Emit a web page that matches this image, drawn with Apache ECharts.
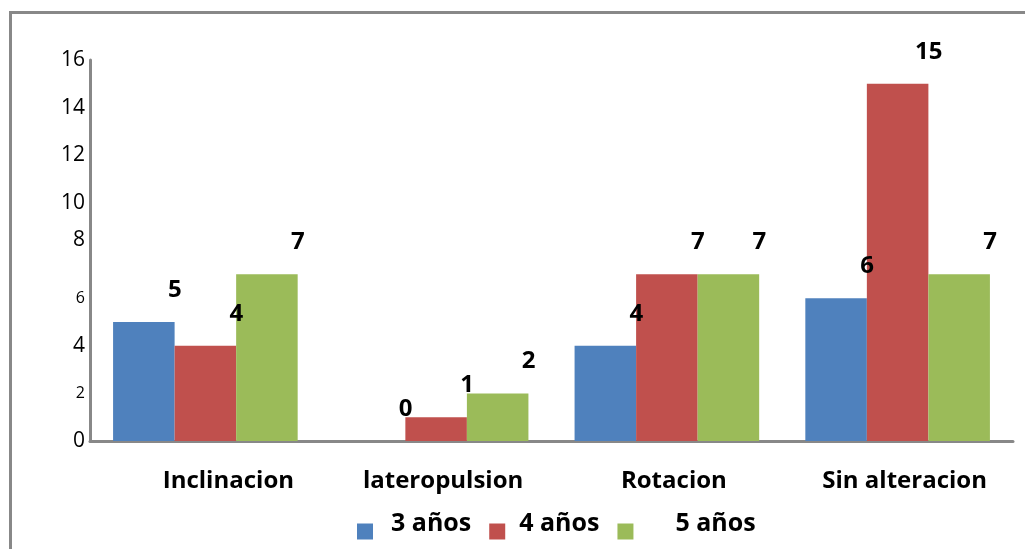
<!DOCTYPE html>
<html>
<head>
<meta charset="utf-8">
<script src="https://cdn.jsdelivr.net/npm/echarts@6/dist/echarts.min.js"></script>
<style>
  html, body { margin: 0; padding: 0; background: #ffffff; }
  #chart { width: 1025px; height: 549px; }
</style>
</head>
<body>
<div id="chart"></div>
<script>
// Categories and series values
const categories = ['Inclinacion', 'lateropulsion', 'Rotacion', 'Sin alteracion'];
const seriesNames = ['3 años', '4 años', '5 años'];
const anos3 = [5, 0, 4, 6];
const anos4 = [4, 1, 7, 15];
const anos5 = [7, 2, 7, 7];
const yTicks = [0, 2, 4, 6, 8, 10, 12, 14, 16];
const smallTicks = [2, 6];

const colors = ['#4F81BD', '#C0504D', '#9BBB59'];
const FONT = '"Open Sans", "DejaVu Sans", sans-serif';

const chart = echarts.init(document.getElementById('chart'), null, { renderer: 'canvas' });

function barSeries(name, values, color) {
  return {
    name: name,
    type: 'bar',
    data: values,
    barGap: '0%',
    barCategoryGap: '20%',
    itemStyle: { color: color },
    label: {
      show: true,
      position: 'top',
      offset: [31, -15],
      fontFamily: FONT,
      fontWeight: 'bold',
      fontSize: 24,
      color: '#000000'
    }
  };
}

chart.setOption({
  animation: false,
  backgroundColor: '#ffffff',
  grid: { left: 90, right: 12, top: 60, bottom: 108, containLabel: false },
  graphic: [
    {
      type: 'polyline',
      shape: { points: [[10.5, 549], [10.5, 12.5], [1025, 12.5]] },
      style: { stroke: '#888888', lineWidth: 3, fill: null }
    }
  ],
  xAxis: {
    type: 'category',
    data: categories,
    axisLine: { show: true, lineStyle: { color: '#888888', width: 3 } },
    axisTick: { show: false },
    axisLabel: {
      interval: 0,
      hideOverlap: false,
      margin: 28,
      fontFamily: FONT,
      fontWeight: 'bold',
      fontSize: 24,
      color: '#000000',
      formatter: function (v) {
        return v === categories[0] ? '{f|' + v + '}' : '{n|' + v + '}';
      },
      rich: {
        f: { fontFamily: FONT, fontWeight: 'bold', fontSize: 24, color: '#000', padding: [0, 0, 0, 46] },
        n: { fontFamily: FONT, fontWeight: 'bold', fontSize: 24, color: '#000', padding: [0, 0, 0, 14] }
      }
    },
    splitLine: { show: false }
  },
  yAxis: {
    type: 'value',
    min: 0,
    max: 16,
    interval: 2,
    axisLine: { show: true, lineStyle: { color: '#888888', width: 3 } },
    axisTick: { show: false },
    splitLine: { show: false },
    axisLabel: {
      margin: 5,
      formatter: function (v) {
        if (smallTicks.indexOf(v) >= 0) return '{s|' + v + '}';
        if (v === 8) return '{u|' + v + '}';
        return '{b|' + v + '}';
      },
      rich: {
        b: { fontFamily: FONT, fontSize: 21, color: '#000000' },
        s: { fontFamily: FONT, fontSize: 16, color: '#000000' },
        u: { fontFamily: FONT, fontSize: 21, color: '#000000', padding: [0, 0, 20, 0] }
      }
    }
  },
  legend: {
    data: seriesNames,
    left: 352,
    top: 506,
    itemWidth: 16,
    itemHeight: 16,
    itemGap: 18,
    icon: 'rect',
    formatter: function (name) {
      if (name === '5 años') return '{c|' + name + '}';
      if (name === '4 años') return '{b|' + name + '}';
      return '{a|' + name + '}';
    },
    textStyle: {
      rich: {
        a: { fontFamily: FONT, fontWeight: 'bold', fontSize: 25, color: '#000', padding: [0, 0, 16, 13] },
        b: { fontFamily: FONT, fontWeight: 'bold', fontSize: 25, color: '#000', padding: [0, 14, 16, 9] },
        c: { fontFamily: FONT, fontWeight: 'bold', fontSize: 25, color: '#000', padding: [0, 0, 16, 37] }
      }
    }
  },
  series: [
    barSeries(seriesNames[0], anos3, colors[0]),
    barSeries(seriesNames[1], anos4, colors[1]),
    barSeries(seriesNames[2], anos5, colors[2])
  ]
});
</script>
</body>
</html>
